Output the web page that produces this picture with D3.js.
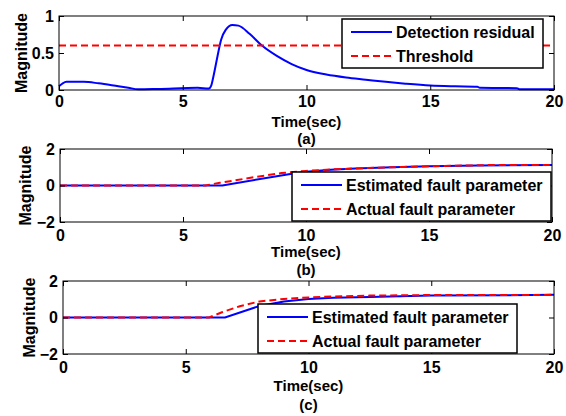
<!DOCTYPE html>
<html>
<head>
<meta charset="utf-8">
<script src="https://cdn.jsdelivr.net/npm/d3@7"></script>
<style>
  body { margin: 0; background: white; }
  text { font-family: "Liberation Sans", Arial, sans-serif; font-weight: bold; }
</style>
</head>
<body>
<div id="chart"></div>
<script>
// Panel (a): detection residual and threshold
const residualT = [0, 0.15, 0.3, 1.0, 1.6, 2.4, 2.8, 3.2, 4.0, 5.6, 6.05, 6.15, 6.25, 6.4, 6.55, 6.75, 7.0, 7.25, 7.7, 8.2, 8.8, 9.4, 10, 10.8, 11.6, 12.4, 13.2, 14, 15, 16, 16.9, 17.0, 18.5, 18.6, 20];
const residualV = [0.05, 0.09, 0.11, 0.11, 0.09, 0.05, 0.03, 0.01, 0.015, 0.03, 0.02, 0.06, 0.2, 0.45, 0.68, 0.82, 0.88, 0.87, 0.76, 0.6, 0.46, 0.35, 0.27, 0.21, 0.17, 0.14, 0.11, 0.085, 0.06, 0.05, 0.045, 0.03, 0.025, 0.01, 0.01];
const threshold = 0.6;

// Panel (b): estimated vs actual fault parameter
const estBT = [0, 6.6, 9.3, 10, 11, 12, 13.5, 15, 17, 20];
const estBV = [0, 0, 0.62, 0.75, 0.86, 0.93, 1.0, 1.05, 1.1, 1.13];
const actBT = [0, 5.9, 6.5, 7.2, 8, 9, 10, 11, 12.5, 14, 15.5, 17.5, 20];
const actBV = [0, 0, 0.15, 0.3, 0.48, 0.68, 0.8, 0.88, 0.96, 1.02, 1.07, 1.12, 1.13];

// Panel (c)
const estCT = [0, 6.6, 8.0, 9, 10, 11, 12.5, 15, 20];
const estCV = [0, 0, 0.63, 0.88, 1.02, 1.08, 1.13, 1.2, 1.24];
const actCT = [0, 5.95, 6.5, 7.2, 8, 9, 10, 11, 12.5, 15, 20];
const actCV = [0, 0, 0.3, 0.62, 0.88, 1.02, 1.1, 1.15, 1.2, 1.23, 1.24];

const xTicks = [0, 5, 10, 15, 20];
const yTicksA = [0, 0.5, 1];
const yTicksBC = [-2, 0, 2];

const width = 566, height = 416;
const svg = d3.select("#chart").append("svg")
  .attr("width", width).attr("height", height)
  .style("background", "white");

const zip = (t, v) => t.map((d, i) => [d, v[i]]);

function panel(box, yDomain, yTicks, yFmt, series, legend, caption) {
  const x = d3.scaleLinear().domain([0, 20]).range([box.x0, box.x1]);
  const y = d3.scaleLinear().domain(yDomain).range([box.y1, box.y0]);
  const g = svg.append("g");

  // lines
  const line = d3.line().x(d => x(d[0])).y(d => y(d[1]));
  series.forEach(s => {
    g.append("path")
      .datum(s.data)
      .attr("fill", "none")
      .attr("stroke", s.color)
      .attr("stroke-width", 2)
      .attr("stroke-dasharray", s.dash || null)
      .attr("d", line.curve(s.curve || d3.curveLinear));
  });

  // axes, ticks inward like matlab
  g.append("g")
    .attr("transform", `translate(0,${box.y1})`)
    .call(d3.axisBottom(x).tickValues(xTicks).tickSize(-5).tickPadding(box.pad).tickSizeOuter(0));
  g.append("g")
    .attr("transform", `translate(0,${box.y0})`)
    .call(d3.axisTop(x).tickValues(xTicks).tickSize(-5).tickFormat("").tickSizeOuter(0));
  g.append("g")
    .attr("transform", `translate(${box.x0},0)`)
    .call(d3.axisLeft(y).tickValues(yTicks).tickFormat(yFmt).tickSize(-5).tickPadding(5).tickSizeOuter(0));
  g.append("g")
    .attr("transform", `translate(${box.x1},0)`)
    .call(d3.axisRight(y).tickValues(yTicks).tickFormat("").tickSize(-5).tickSizeOuter(0));
  g.selectAll(".domain").remove();
  g.selectAll(".tick line").attr("stroke", "black");
  g.selectAll(".tick text")
    .style("font-size", "16px")
    .style("font-weight", "bold")
    .attr("fill", "black");

  g.append("rect")
    .attr("x", box.x0).attr("y", box.y0)
    .attr("width", box.x1 - box.x0).attr("height", box.y1 - box.y0)
    .attr("fill", "none").attr("stroke", "black").attr("stroke-width", 1);

  // legend
  const lg = g.append("g");
  lg.append("rect")
    .attr("x", legend.x).attr("y", legend.y)
    .attr("width", legend.w).attr("height", legend.h)
    .attr("fill", "white").attr("stroke", "black").attr("stroke-width", 1.5);
  legend.items.forEach((it, i) => {
    const yy = legend.y + 13 + i * 24;
    lg.append("line")
      .attr("x1", legend.x + 9).attr("x2", legend.x + 50)
      .attr("y1", yy).attr("y2", yy)
      .attr("stroke", it.color).attr("stroke-width", 2)
      .attr("stroke-dasharray", it.dash || null);
    lg.append("text")
      .attr("x", legend.x + 54).attr("y", yy)
      .attr("dy", "0.36em")
      .style("font-size", "16px")
      .text(it.label);
  });

  // labels
  g.append("text")
    .attr("transform", `translate(${box.ylabX},${(box.y0 + box.y1) / 2}) rotate(-90)`)
    .attr("text-anchor", "middle")
    .attr("dy", "0.36em")
    .style("font-size", "16px")
    .text("Magnitude");
  g.append("text")
    .attr("x", (box.x0 + box.x1) / 2).attr("y", box.timeY)
    .attr("text-anchor", "middle").attr("dy", "0.36em")
    .style("font-size", "15px")
    .text("Time(sec)");
  g.append("text")
    .attr("x", (box.x0 + box.x1) / 2).attr("y", box.capY)
    .attr("text-anchor", "middle").attr("dy", "0.36em")
    .style("font-size", "15px")
    .text(caption);
}

const dash = "7,4";

panel({x0: 59, x1: 554, y0: 16, y1: 90, pad: 6, ylabX: 21, timeY: 122, capY: 139},
  [0, 1], yTicksA, d3.format("~g"),
  [
    {data: zip(residualT, residualV), color: "#0000ff", curve: d3.curveMonotoneX},
    {data: [[0, threshold], [20, threshold]], color: "#ff0000", dash: dash}
  ],
  {x: 342, y: 19, w: 201, h: 49, items: [
    {label: "Detection residual", color: "#0000ff"},
    {label: "Threshold", color: "#ff0000", dash: dash}
  ]},
  "(a)");

panel({x0: 60, x1: 552, y0: 149, y1: 222, pad: 8, ylabX: 25, timeY: 252, capY: 270},
  [-2, 2], yTicksBC, d3.format("d"),
  [
    {data: zip(estBT, estBV), color: "#0000ff"},
    {data: zip(actBT, actBV), color: "#ff0000", dash: dash}
  ],
  {x: 292, y: 172, w: 259, h: 49, items: [
    {label: "Estimated fault parameter", color: "#0000ff"},
    {label: "Actual fault parameter", color: "#ff0000", dash: dash}
  ]},
  "(b)");

panel({x0: 63, x1: 554, y0: 281, y1: 354, pad: 8, ylabX: 29, timeY: 386, capY: 405},
  [-2, 2], yTicksBC, d3.format("d"),
  [
    {data: zip(estCT, estCV), color: "#0000ff"},
    {data: zip(actCT, actCV), color: "#ff0000", dash: dash}
  ],
  {x: 258, y: 304, w: 259, h: 49, items: [
    {label: "Estimated fault parameter", color: "#0000ff"},
    {label: "Actual fault parameter", color: "#ff0000", dash: dash}
  ]},
  "(c)");
</script>
</body>
</html>
